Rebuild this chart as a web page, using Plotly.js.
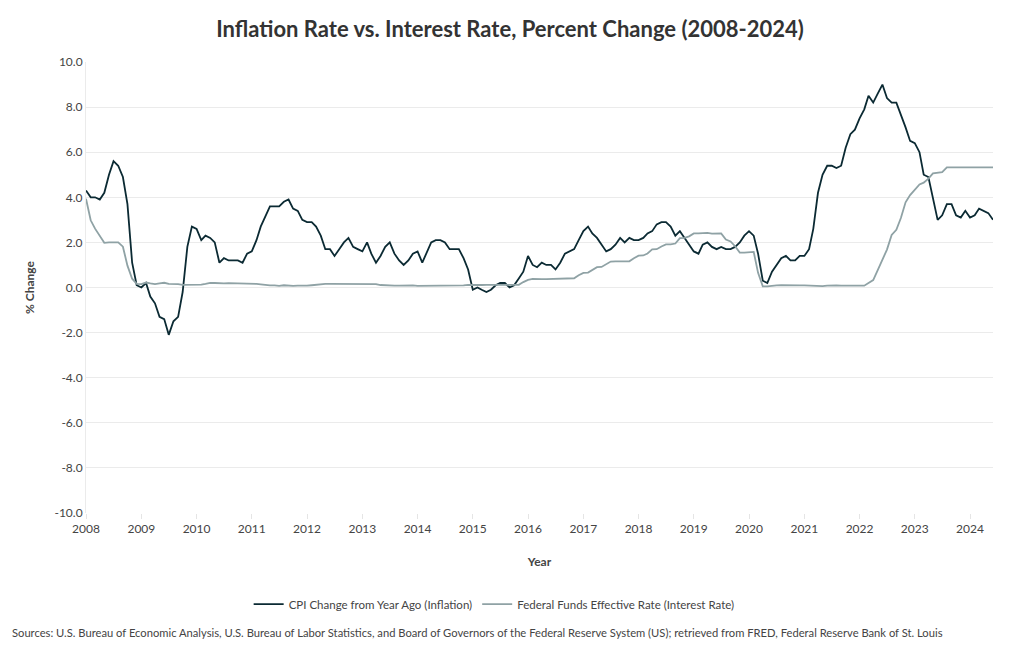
<!DOCTYPE html>
<html>
<head>
<meta charset="utf-8">
<script src="https://cdn.plot.ly/plotly-3.0.1.min.js"></script>
<style>html,body{margin:0;padding:0;background:#fff;}#chart{width:1020px;height:650px;}</style>
</head>
<body>
<div id="chart"></div>
<script>
const startYear = 2008;
const monthsCount = 198; // Jan 2008 .. Jun 2024

const cpiYoY = [
  4.3, 4.0, 4.0, 3.9, 4.2, 5.0, 5.6, 5.4, 4.9, 3.7, 1.1, 0.1,
  0.0, 0.2, -0.4, -0.7, -1.3, -1.4, -2.1, -1.5, -1.3, -0.2, 1.8, 2.7,
  2.6, 2.1, 2.3, 2.2, 2.0, 1.1, 1.3, 1.2, 1.2, 1.2, 1.1, 1.5,
  1.6, 2.1, 2.7, 3.2, 3.6, 3.6, 3.6, 3.8, 3.9, 3.5, 3.4, 3.0,
  2.9, 2.9, 2.7, 2.3, 1.7, 1.7, 1.4, 1.7, 2.0, 2.2, 1.8, 1.7,
  1.6, 2.0, 1.5, 1.1, 1.4, 1.8, 2.0, 1.5, 1.2, 1.0, 1.2, 1.5,
  1.6, 1.1, 1.5, 2.0, 2.1, 2.1, 2.0, 1.7, 1.7, 1.7, 1.3, 0.8,
  -0.1, 0.0, -0.1, -0.2, -0.1, 0.1, 0.2, 0.2, 0.0, 0.1, 0.4, 0.7,
  1.4, 1.0, 0.9, 1.1, 1.0, 1.0, 0.8, 1.1, 1.5, 1.6, 1.7, 2.1,
  2.5, 2.7, 2.4, 2.2, 1.9, 1.6, 1.7, 1.9, 2.2, 2.0, 2.2, 2.1,
  2.1, 2.2, 2.4, 2.5, 2.8, 2.9, 2.9, 2.7, 2.3, 2.5, 2.2, 1.9,
  1.6, 1.5, 1.9, 2.0, 1.8, 1.7, 1.8, 1.7, 1.7, 1.8, 2.0, 2.3,
  2.5, 2.3, 1.5, 0.3, 0.2, 0.7, 1.0, 1.3, 1.4, 1.2, 1.2, 1.4,
  1.4, 1.7, 2.6, 4.2, 5.0, 5.4, 5.4, 5.3, 5.4, 6.2, 6.8, 7.0,
  7.5, 7.9, 8.5, 8.2, 8.6, 9.0, 8.4, 8.2, 8.2, 7.7, 7.1, 6.5,
  6.4, 6.0, 5.0, 4.9, 4.0, 3.0, 3.2, 3.7, 3.7, 3.2, 3.1, 3.4,
  3.1, 3.2, 3.5, 3.4, 3.3, 3.0
];

const fedFunds = [
  3.94, 2.98, 2.61, 2.28, 1.98, 2.00, 2.01, 2.00, 1.81, 0.97, 0.39, 0.16,
  0.15, 0.22, 0.18, 0.15, 0.18, 0.21, 0.16, 0.16, 0.15, 0.12, 0.12, 0.12,
  0.11, 0.13, 0.16, 0.20, 0.20, 0.18, 0.18, 0.19, 0.19, 0.19, 0.19, 0.18,
  0.17, 0.16, 0.14, 0.10, 0.09, 0.09, 0.07, 0.10, 0.08, 0.07, 0.08, 0.07,
  0.08, 0.10, 0.13, 0.14, 0.16, 0.16, 0.16, 0.13, 0.14, 0.16, 0.16, 0.16,
  0.14, 0.15, 0.14, 0.15, 0.11, 0.09, 0.09, 0.08, 0.08, 0.09, 0.08, 0.09,
  0.07, 0.07, 0.08, 0.09, 0.09, 0.10, 0.09, 0.09, 0.09, 0.09, 0.09, 0.12,
  0.11, 0.11, 0.11, 0.12, 0.12, 0.13, 0.13, 0.14, 0.14, 0.12, 0.12, 0.24,
  0.34, 0.38, 0.36, 0.37, 0.37, 0.38, 0.39, 0.40, 0.40, 0.40, 0.41, 0.54,
  0.65, 0.66, 0.79, 0.90, 0.91, 1.04, 1.15, 1.16, 1.15, 1.15, 1.16, 1.30,
  1.41, 1.42, 1.51, 1.69, 1.70, 1.82, 1.91, 1.91, 1.95, 2.19, 2.20, 2.27,
  2.40, 2.40, 2.41, 2.42, 2.39, 2.38, 2.40, 2.13, 2.04, 1.83, 1.55, 1.55,
  1.55, 1.58, 0.65, 0.05, 0.05, 0.08, 0.09, 0.10, 0.09, 0.09, 0.09, 0.09,
  0.09, 0.08, 0.07, 0.07, 0.06, 0.08, 0.10, 0.09, 0.08, 0.08, 0.08, 0.08,
  0.08, 0.08, 0.20, 0.33, 0.77, 1.21, 1.68, 2.33, 2.56, 3.08, 3.78, 4.10,
  4.33, 4.57, 4.65, 4.83, 5.06, 5.08, 5.12, 5.33, 5.33, 5.33, 5.33, 5.33,
  5.33, 5.33, 5.33, 5.33, 5.33, 5.33
];

const yTickVals = [-10, -8, -6, -4, -2, 0, 2, 4, 6, 8, 10];
const yTickText = ["-10.0", "-8.0", "-6.0", "-4.0", "-2.0", "0.0", "2.0", "4.0", "6.0", "8.0", "10.0"];

const seriesNames = ["CPI Change from Year Ago (Inflation)", "Federal Funds Effective Rate (Interest Rate)"];
const titleText = "Inflation Rate vs. Interest Rate, Percent Change (2008-2024)";
const xTitle = "Year";
const yTitle = "% Change";
const sourceText = "Sources: U.S. Bureau of Economic Analysis, U.S. Bureau of Labor Statistics, and Board of Governors of the Federal Reserve System (US); retrieved from FRED, Federal Reserve Bank of St. Louis";

const dates = [];
for (let i = 0; i < monthsCount; i++) {
  const y = startYear + Math.floor(i / 12);
  const m = (i % 12) + 1;
  dates.push(y + "-" + String(m).padStart(2, "0") + "-01");
}

const FONT = "Lato, 'Source Sans Pro', sans-serif";

const traces = [
  {x: dates, y: cpiYoY, type: "scatter", mode: "lines", name: seriesNames[0],
   line: {color: "#0b2a33", width: 1.8}},
  {x: dates, y: fedFunds, type: "scatter", mode: "lines", name: seriesNames[1],
   line: {color: "#8fa2a5", width: 1.8}}
];

const layout = {
  width: 1020, height: 650,
  paper_bgcolor: "#ffffff", plot_bgcolor: "#ffffff",
  font: {family: FONT, size: 12, color: "#444"},
  margin: {l: 86, r: 27, t: 62, b: 137},
  title: {text: "<b>" + titleText + "</b>", x: 0.5, xanchor: "center", y: 0.955, yanchor: "middle",
          font: {family: FONT, size: 22, color: "#333"}},
  xaxis: {
    type: "date", range: [dates[0], dates[dates.length - 1]],
    dtick: "M12", tick0: "2008-01-01", tickformat: "%Y",
    showgrid: false, zeroline: false, showline: false,
    ticks: "outside", ticklen: 5, tickcolor: "#e5e5e5",
    tickfont: {family: FONT, size: 12, color: "#444"},
    title: {text: "<b>" + xTitle + "</b>", font: {family: FONT, size: 12, color: "#444"}, standoff: 22}
  },
  yaxis: {
    range: [-10, 10], tickmode: "array", tickvals: yTickVals, ticktext: yTickText,
    showgrid: true, gridcolor: "#ebebeb", zeroline: false,
    showline: true, linecolor: "#ebebeb",
    tickfont: {family: FONT, size: 12, color: "#444"},
    title: {text: "<b>" + yTitle + "</b>", font: {family: FONT, size: 12, color: "#444"}, standoff: 17}
  },
  legend: {orientation: "h", x: 0.45, xanchor: "center", y: -0.202, yanchor: "middle",
           font: {family: FONT, size: 11.5, color: "#444"}},
  annotations: [{
    text: sourceText, xref: "paper", yref: "paper", x: -0.084, y: -0.265,
    xanchor: "left", yanchor: "middle", showarrow: false,
    font: {family: FONT, size: 11.2, color: "#444"}
  }]
};

Plotly.newPlot("chart", traces, layout, {displayModeBar: false});
</script>
</body>
</html>
